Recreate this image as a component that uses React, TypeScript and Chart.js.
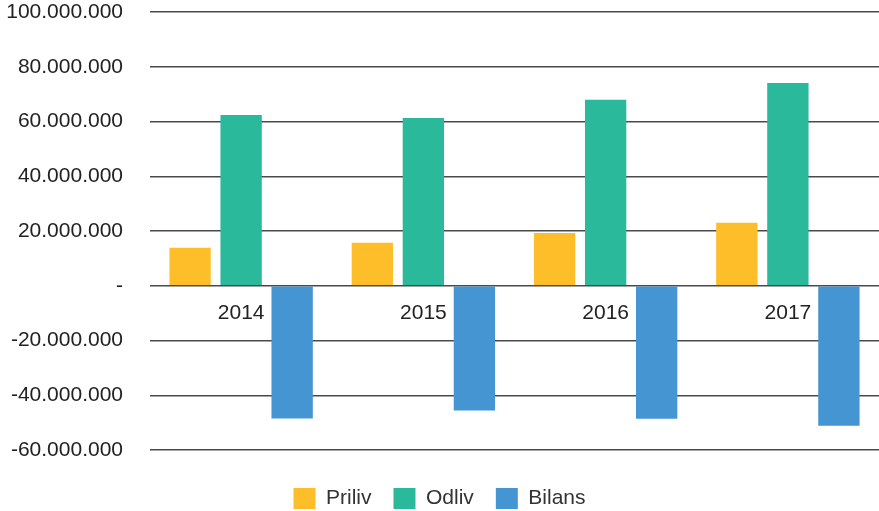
import React, { useEffect, useRef } from "react";
import { Chart, registerables } from "chart.js";

Chart.register(...registerables);

const categories = ["2014", "2015", "2016", "2017"];
const priliv = [13900000, 15700000, 19300000, 23000000];
const odliv = [62400000, 61300000, 67900000, 74100000];
const bilans = [-48500000, -45600000, -48600000, -51100000];
const yMin = -60000000;
const yMax = 100000000;
const yStep = 20000000;

function formatNum(v: number): string {
  if (v === 0) return "-";
  const neg = v < 0;
  const s = Math.abs(Math.round(v)).toString().replace(/\B(?=(\d{3})+(?!\d))/g, ".");
  return (neg ? "-" : "") + s;
}

export default function App() {
  const ref = useRef<HTMLCanvasElement | null>(null);

  useEffect(() => {
    document.body.style.margin = "0";
    document.body.style.overflow = "hidden";
    const canvas = ref.current;
    if (!canvas) return;
    const font = "'Liberation Sans', Arial, Helvetica, sans-serif";
    const chart = new Chart(canvas, {
      type: "bar",
      data: {
        labels: categories,
        datasets: [
          { label: "Priliv", data: priliv, backgroundColor: "#FEBE2A" },
          { label: "Odliv", data: odliv, backgroundColor: "#2AB99A" },
          { label: "Bilans", data: bilans, backgroundColor: "#4595D2" },
        ],
      },
      options: {
        animation: false,
        responsive: false,
        maintainAspectRatio: false,
        layout: { padding: 0 },
        datasets: { bar: { categoryPercentage: 0.84, barPercentage: 0.81 } },
        plugins: {
          legend: {
            position: "bottom",
            maxHeight: 61,
            title: {
              display: true,
              text: "",
              padding: { top: 15, bottom: 0 },
              font: { size: 1, lineHeight: 1 },
            },
            labels: {
              boxWidth: 22,
              boxHeight: 21,
              padding: 22,
              color: "#333",
              font: { family: font, size: 21 },
            },
          },
          tooltip: { enabled: false },
        },
        scales: {
          x: {
            position: { y: 0 } as any,
            afterFit: (scale: any) => {
              scale.height = 0;
            },
            grid: { display: false, drawTicks: false },
            border: { display: false },
            ticks: {
              color: "#222",
              padding: 15,
              font: { family: font, size: 21 },
              maxRotation: 0,
            },
          },
          y: {
            min: yMin,
            max: yMax,
            afterFit: (scale: any) => {
              scale.width = 150;
              scale.paddingTop = 12;
              scale.paddingBottom = 12;
            },
            grid: { color: "#4a4a4a", lineWidth: 1.5, drawTicks: false },
            border: { display: false },
            ticks: {
              stepSize: yStep,
              color: "#222",
              padding: 27,
              font: { family: font, size: 21 },
              callback: (v: any) => formatNum(Number(v)),
            },
          },
        },
      },
    });
    return () => chart.destroy();
  }, []);

  return <canvas ref={ref} width={879} height={511} style={{ display: "block" }} />;
}
